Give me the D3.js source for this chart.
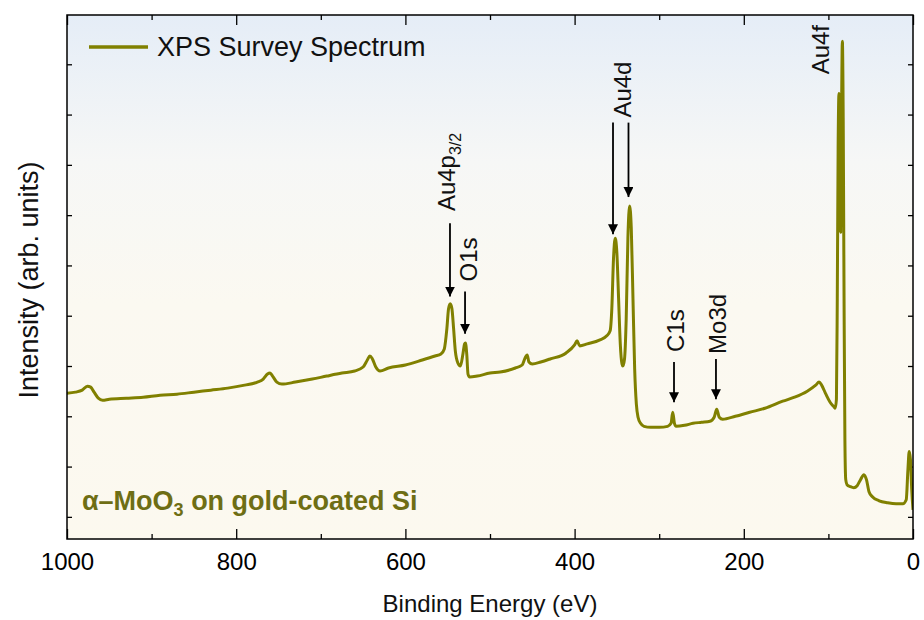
<!DOCTYPE html>
<html><head><meta charset="utf-8">
<script src="https://cdn.jsdelivr.net/npm/d3@7"></script>
<style>
body{margin:0;background:#fff;}
svg{display:block;font-family:"Liberation Sans",Arial,Helvetica,sans-serif;}
</style>
</head><body>
<svg id="chart" width="924" height="620"></svg>
<script>
// ---- data (binding energy in eV, intensity in arb. units) ----
const energies = [1000,990,982,976,972,968,963,958,950,930,910,890,870,850,830,810,790,775,768,763,760,757,752,746,730,710,693,675,660,650,645,642,639,635,630,620,600,580,565,558,554,551,549,547,545,543,541,538,535,532,530,529,527.5,526,524,515,500,488,470,462,458,456,454,450,440,429,410,400,397,394,385,370,362,358,356,354,352,350,348,346,344,343,341,339,337,335,333,331,329,327,325,322,318,310,300,290,286,284,282,280,270,260,250,240,235,232,229,225,210,193,175,154,140,125,115,111,108,103,98,93,92,90.5,89.5,88.5,87.5,86.5,85.5,84.5,83.5,82.5,81.5,80.5,79.5,78,74,70,66,62,58,55,52,48,40,30,20,12,8,6,4.5,3,1.5,0];
const intensities = [123,124,126,130,129,124,118,116,117,118,119,121,122,124,126,128,131,134,137,142,143,140,134,132,134,137,140,143,145,149,156,160,157,149,145,148,151,156,160,162,167,187,207,212,207,187,165,153,150,162,172,173,162,142,139,140,143,144,148,151,159,161,154,152,154,157,163,171,175,170,172,176,180,185,207,257,277,262,217,172,152,150,157,197,277,309,287,217,147,112,99,93,90,89,89,90,93,104,93,90,91,93,94,95,99,107,99,97,100,104,108,115,119,125,131,134,131,122,114,109,108,117,217,367,421,367,283,397,473,397,217,77,37,32,30,29,31,37,42,37,25,20,16,14,13,13,17,47,65,57,27,7];

const xMajorTicks = [1000,800,600,400,200,0];
const xMinorTicks = [900,700,500,300,100];
const yTicks = [0,50,100,150,200,250,300,350,400,450];

// peak annotations
const annLabels = ["Au4p","O1s","Au4d","C1s","Mo3d","Au4f"];
const annSubs   = ["3/2","","","","",""];
const annTextE  = [552,526,344,281,231.7,110];
const annTextI  = [304,234,397,164,162,440];
const arrowE    = [547.3,529.5,354.6,336.3,282.5,232.9];
const arrowFrom = [292,224,392,392,154,157];
const arrowTo   = [219,182,281,318,114,117];

const seriesName = "XPS Survey Spectrum";
const sampleText = ["\u03B1\u2013MoO","3"," on gold-coated Si"];

// ---- layout ----
const svg = d3.select("#chart");
const L=67, R=913, T=15, B=539;
const lineColor = "#808000";

const x = d3.scaleLinear().domain([1000,0]).range([L,R]);
const y = d3.scaleLinear().domain([-22,499]).range([B,T]);

const defs = svg.append("defs");
const grad = defs.append("linearGradient").attr("id","bg").attr("x1",0).attr("y1",0).attr("x2",0).attr("y2",1);
grad.append("stop").attr("offset","0%").attr("stop-color","#e5edf7");
grad.append("stop").attr("offset","28%").attr("stop-color","#f6f7f6");
grad.append("stop").attr("offset","55%").attr("stop-color","#fbf9f1");
grad.append("stop").attr("offset","100%").attr("stop-color","#fcf9ef");
defs.append("clipPath").attr("id","clip").append("rect").attr("x",L).attr("y",T).attr("width",R-L).attr("height",B-T);
defs.append("marker").attr("id","arrow").attr("viewBox","0 0 10 10").attr("refX",10).attr("refY",5)
  .attr("markerWidth",10).attr("markerHeight",10).attr("markerUnits","userSpaceOnUse").attr("orient","auto")
  .append("path").attr("d","M0,0 L10,5 L0,10 Z").attr("fill","#000");

svg.append("rect").attr("x",L).attr("y",T).attr("width",R-L).attr("height",B-T).attr("fill","url(#bg)");

// axes (ticks inward)
function styleAxis(g){ g.select(".domain").remove(); g.selectAll("line").attr("stroke","#000").attr("stroke-width",1.3); }
svg.append("g").attr("transform",`translate(0,${B})`)
  .call(d3.axisBottom(x).tickValues(xMajorTicks).tickSize(-10).tickPadding(14).tickFormat(d3.format("d")))
  .call(styleAxis)
  .call(g=>g.selectAll("text").attr("font-size",24).attr("fill","#000").attr("font-family","'Liberation Sans',Arial,sans-serif"));
svg.append("g").attr("transform",`translate(0,${B})`)
  .call(d3.axisBottom(x).tickValues(xMinorTicks).tickSize(-5).tickFormat("")).call(styleAxis);
svg.append("g").attr("transform",`translate(0,${T})`)
  .call(d3.axisTop(x).tickValues(xMajorTicks).tickSize(-10).tickFormat("")).call(styleAxis);
svg.append("g").attr("transform",`translate(0,${T})`)
  .call(d3.axisTop(x).tickValues(xMinorTicks).tickSize(-5).tickFormat("")).call(styleAxis);
svg.append("g").attr("transform",`translate(${L},0)`)
  .call(d3.axisLeft(y).tickValues(yTicks).tickSize(-5).tickFormat("")).call(styleAxis);
svg.append("g").attr("transform",`translate(${R},0)`)
  .call(d3.axisRight(y).tickValues(yTicks).tickSize(-5).tickFormat("")).call(styleAxis);

// spectrum
const data = energies.map((e,i)=>({e, v:intensities[i]}));
svg.append("path").datum(data).attr("clip-path","url(#clip)")
  .attr("fill","none").attr("stroke",lineColor).attr("stroke-width",3).attr("stroke-linejoin","round")
  .attr("d", d3.line().x(d=>x(d.e)).y(d=>y(d.v)).curve(d3.curveMonotoneX));

// frame
svg.append("rect").attr("x",L).attr("y",T).attr("width",R-L).attr("height",B-T)
  .attr("fill","none").attr("stroke","#000").attr("stroke-width",1.5);

// arrows
arrowE.forEach((e,i)=>{
  svg.append("line").attr("x1",x(e)).attr("x2",x(e)).attr("y1",y(arrowFrom[i])).attr("y2",y(arrowTo[i]))
    .attr("stroke","#000").attr("stroke-width",1.8).attr("marker-end","url(#arrow)");
});

// peak labels (rotated)
annLabels.forEach((lab,i)=>{
  const t = svg.append("text")
    .attr("transform",`translate(${x(annTextE[i])},${y(annTextI[i])}) rotate(-90)`)
    .attr("dy","0.36em").attr("font-size",24).attr("fill","#111").text(lab);
  if(annSubs[i]) t.append("tspan").attr("dy",6).attr("font-size",16).text(annSubs[i]);
});

// legend
svg.append("line").attr("x1",89).attr("x2",148).attr("y1",47).attr("y2",47)
  .attr("stroke",lineColor).attr("stroke-width",3.4);
svg.append("text").attr("x",157).attr("y",56).attr("font-size",27).attr("fill","#111").text(seriesName);

// sample label
const st = svg.append("text").attr("x",82).attr("y",510).attr("font-size",27).attr("font-weight","bold").attr("fill","#6e6e14");
st.append("tspan").text(sampleText[0]);
st.append("tspan").attr("dy",6).attr("font-size",18).text(sampleText[1]);
st.append("tspan").attr("dy",-6).text(sampleText[2]);

// axis titles
svg.append("text").attr("x",(L+R)/2).attr("y",612).attr("text-anchor","middle").attr("font-size",24).attr("fill","#111")
  .text("Binding Energy (eV)");
svg.append("text").attr("transform",`translate(38,${(T+B)/2+3}) rotate(-90)`).attr("text-anchor","middle")
  .attr("font-size",27).attr("fill","#111").text("Intensity (arb. units)");
</script>
</body></html>
